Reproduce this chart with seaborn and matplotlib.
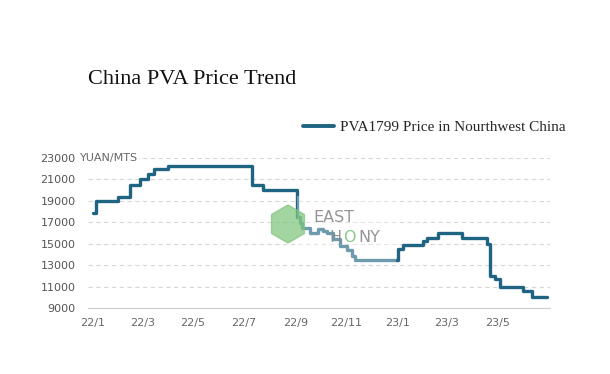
import numpy as np
import pandas as pd
import matplotlib.pyplot as plt
from matplotlib.patches import RegularPolygon
import seaborn as sns

# PVA1799 price, northwest China (yuan/mt), step changes
dates = ["2022-01-01", "2022-01-05", "2022-01-31", "2022-02-14", "2022-02-26",
         "2022-03-08", "2022-03-15", "2022-04-01", "2022-07-11", "2022-07-24",
         "2022-09-03", "2022-09-06", "2022-09-09", "2022-09-18", "2022-09-28",
         "2022-10-04", "2022-10-09", "2022-10-16", "2022-10-24", "2022-11-02",
         "2022-11-08", "2022-11-11", "2023-01-02", "2023-01-08", "2023-02-01",
         "2023-02-06", "2023-02-19", "2023-03-20", "2023-04-19", "2023-04-22",
         "2023-04-28", "2023-05-04", "2023-06-01", "2023-06-12", "2023-06-29"]
prices = [17900, 19000, 19400, 20500, 21000,
          21500, 22000, 22300, 20500, 20000,
          17500, 16900, 16500, 16000, 16400,
          16200, 16000, 15400, 14800, 14400,
          13900, 13500, 14500, 14900, 15300,
          15500, 16000, 15500, 15000, 12000,
          11700, 11000, 10600, 10000, 10000]

tick_dates = ["2022-01-01", "2022-03-01", "2022-05-01", "2022-07-01", "2022-09-01",
              "2022-11-01", "2023-01-01", "2023-03-01", "2023-05-01"]
tick_labels = ["22/1", "22/3", "22/5", "22/7", "22/9", "22/11", "23/1", "23/3", "23/5"]
y_ticks = [9000, 11000, 13000, 15000, 17000, 19000, 21000, 23000]

series_name = "PVA1799 Price in Nourthwest China"
df = pd.DataFrame({"date": pd.to_datetime(dates), "price": prices, "series": series_name})

sns.set_style("white")
line_color = "#1f6482"
fig = plt.figure(figsize=(6.1, 3.74), dpi=100)
ax = fig.add_axes([88 / 610, 1 - 308 / 374, 462 / 610, 150 / 374])

sns.lineplot(data=df, x="date", y="price", ax=ax, color=line_color, lw=2.4,
             drawstyle="steps-post", legend=False, zorder=3)

ax.set_xlim(pd.Timestamp("2021-12-26"), pd.Timestamp("2023-07-03"))
ax.set_ylim(9000, 23000)
ax.set_xticks(pd.to_datetime(tick_dates))
ax.set_xticklabels(tick_labels)
ax.set_yticks(y_ticks)
ax.set_yticklabels([str(v) for v in y_ticks])
ax.tick_params(axis="x", colors="#cccccc", labelcolor="#666666", labelsize=8,
               length=4, width=0.8, direction="out", pad=3)
ax.tick_params(axis="y", labelcolor="#555555", labelsize=8, length=0, pad=9)
ax.set_xlabel("")
ax.set_ylabel("")
ax.grid(axis="y", color="#d6d6d6", linestyle=(0, (4, 3)), lw=0.8)
ax.grid(axis="x", visible=False)
for s in ["top", "right", "left"]:
    ax.spines[s].set_visible(False)
ax.spines["bottom"].set_color("#cccccc")
ax.spines["bottom"].set_linewidth(0.8)

ax.text(-8 / 462, 1.0, "YUAN/MTS", transform=ax.transAxes, ha="left", va="center",
        fontsize=8, color="#666666",
        bbox=dict(facecolor="white", edgecolor="none", pad=1))

# watermark: faded band over the line plus logo
ax.axvspan(pd.Timestamp("2022-09-03"), pd.Timestamp("2022-12-30"), ymin=0.29, ymax=0.75,
           color="white", alpha=0.35, lw=0, zorder=4)
fig.patches.append(RegularPolygon((2.88, (374 - 224) / 100), numVertices=6, radius=0.19,
                                  orientation=0, transform=fig.dpi_scale_trans,
                                  color="#7cc47a", alpha=0.7, zorder=5))
wm_gray = "#8a8a8a"
fig.text(313 / 610, 1 - 217 / 374, "EAST", fontsize=11.5, color=wm_gray,
         ha="left", va="center", alpha=0.9)
fig.text(329 / 610, 1 - 237 / 374, "H", fontsize=11.5, color=wm_gray,
         ha="left", va="center", alpha=0.9)
fig.text(343 / 610, 1 - 237 / 374, "O", fontsize=11.5, color="#7cc47a",
         ha="left", va="center", alpha=0.9)
fig.text(358 / 610, 1 - 237 / 374, "NY", fontsize=11.5, color=wm_gray,
         ha="left", va="center", alpha=0.9)

fig.text(88 / 610, 1 - 80 / 374, "China PVA Price Trend", fontsize=16,
         family="Liberation Serif", color="#111111", ha="left", va="center")

handle = plt.Line2D([], [], color=line_color, lw=2.8)
fig.legend([handle], [series_name], loc="center left",
           bbox_to_anchor=(303 / 610, 1 - 127 / 374), frameon=False,
           prop={"family": "Liberation Serif", "size": 11},
           handlelength=2.0, handletextpad=0.4, borderpad=0, borderaxespad=0)

fig.savefig("out.png", dpi=100)
